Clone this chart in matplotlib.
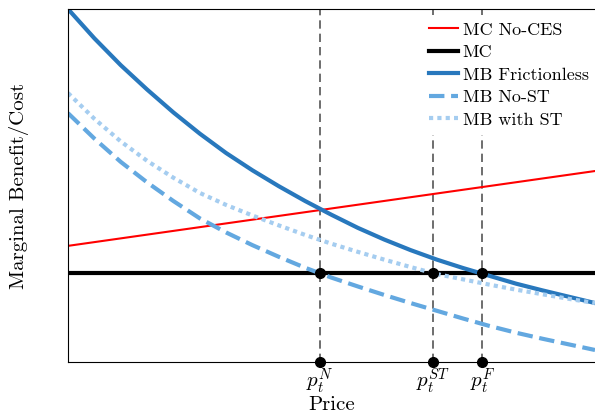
import numpy as np
import matplotlib
matplotlib.use('Agg')
import matplotlib.pyplot as plt

plt.rcParams['font.family'] = 'serif'
plt.rcParams['font.serif'] = ['cmr10', 'DejaVu Serif']
plt.rcParams['mathtext.fontset'] = 'cm'
plt.rcParams['axes.unicode_minus'] = False
plt.rcParams['axes.formatter.use_mathtext'] = True

# price grid and curves
price = [0, 0.5, 1, 1.5, 2, 2.5, 3, 3.5, 4, 4.5, 5, 5.5, 6, 6.5, 7, 7.5, 8, 8.5, 9, 9.5, 10]
mb_frictionless = [10.0, 9.17, 8.41, 7.72, 7.07, 6.47, 5.92, 5.43, 4.98, 4.56, 4.17,
                   3.80, 3.47, 3.17, 2.90, 2.66, 2.44, 2.22, 2.03, 1.85, 1.67]
mb_no_st = [7.05, 6.33, 5.67, 5.09, 4.56, 4.07, 3.67, 3.31, 2.98, 2.67, 2.39,
            2.14, 1.90, 1.67, 1.45, 1.23, 1.02, 0.83, 0.66, 0.50, 0.34]
mb_with_st = [7.62, 6.89, 6.25, 5.70, 5.22, 4.79, 4.45, 4.15, 3.87, 3.60, 3.35,
              3.12, 2.90, 2.69, 2.49, 2.34, 2.19, 2.05, 1.92, 1.79, 1.67]

mc_price = [0, 10]
mc_no_ces = [3.29, 5.41]
mc = [2.52, 2.52]

# equilibrium prices
p_eq = [4.78, 6.93, 7.86]
p_labels = [r'$p_t^N$', r'$p_t^{ST}$', r'$p_t^F$']

fig = plt.figure(figsize=(5.95, 4.15), dpi=100)
ax = fig.add_axes([68/595, 53/415, 527/595, 353/415])

ax.plot(mc_price, mc_no_ces, color='red', lw=1.5, label='MC No-CES')
ax.plot(mc_price, mc, color='black', lw=3, label='MC')
ax.plot(price, mb_frictionless, color='#2878bd', lw=3, label='MB Frictionless')
ax.plot(price, mb_no_st, color='#63a8e0', lw=3, ls='--', label='MB No-ST')
ax.plot(price, mb_with_st, color='#a5cdf0', lw=3, ls=(0, (1, 1)), label='MB with ST')

for p in p_eq:
    ax.axvline(p, color='#555555', lw=1.2, ls=(0, (5, 3)), zorder=1)
    ax.plot([p], [mc[0]], 'o', color='black', ms=7, zorder=5)
    ax.plot([p], [0], 'o', color='black', ms=7, zorder=5, clip_on=False)

ax.set_xlim(0, 10)
ax.set_ylim(0, 10)
ax.set_xticks(p_eq)
ax.set_xticklabels(p_labels, fontsize=15)
ax.tick_params(axis='x', length=0, pad=3)
ax.set_yticks([])
ax.spines['right'].set_visible(False)

ax.set_xlabel('Price', fontsize=15, labelpad=0)
ax.set_ylabel('Marginal Benefit/Cost', fontsize=15, labelpad=28)

leg = ax.legend(loc='upper right', bbox_to_anchor=(1.002, 0.984), frameon=True, fontsize=13,
                handlelength=1.6, handletextpad=0.25, labelspacing=0.38, borderaxespad=0.0,
                borderpad=0.4, fancybox=False, framealpha=1)
leg.get_frame().set_edgecolor('none')
leg.get_frame().set_facecolor('white')
leg.set_zorder(10)

fig.savefig('out.png', dpi=100)
